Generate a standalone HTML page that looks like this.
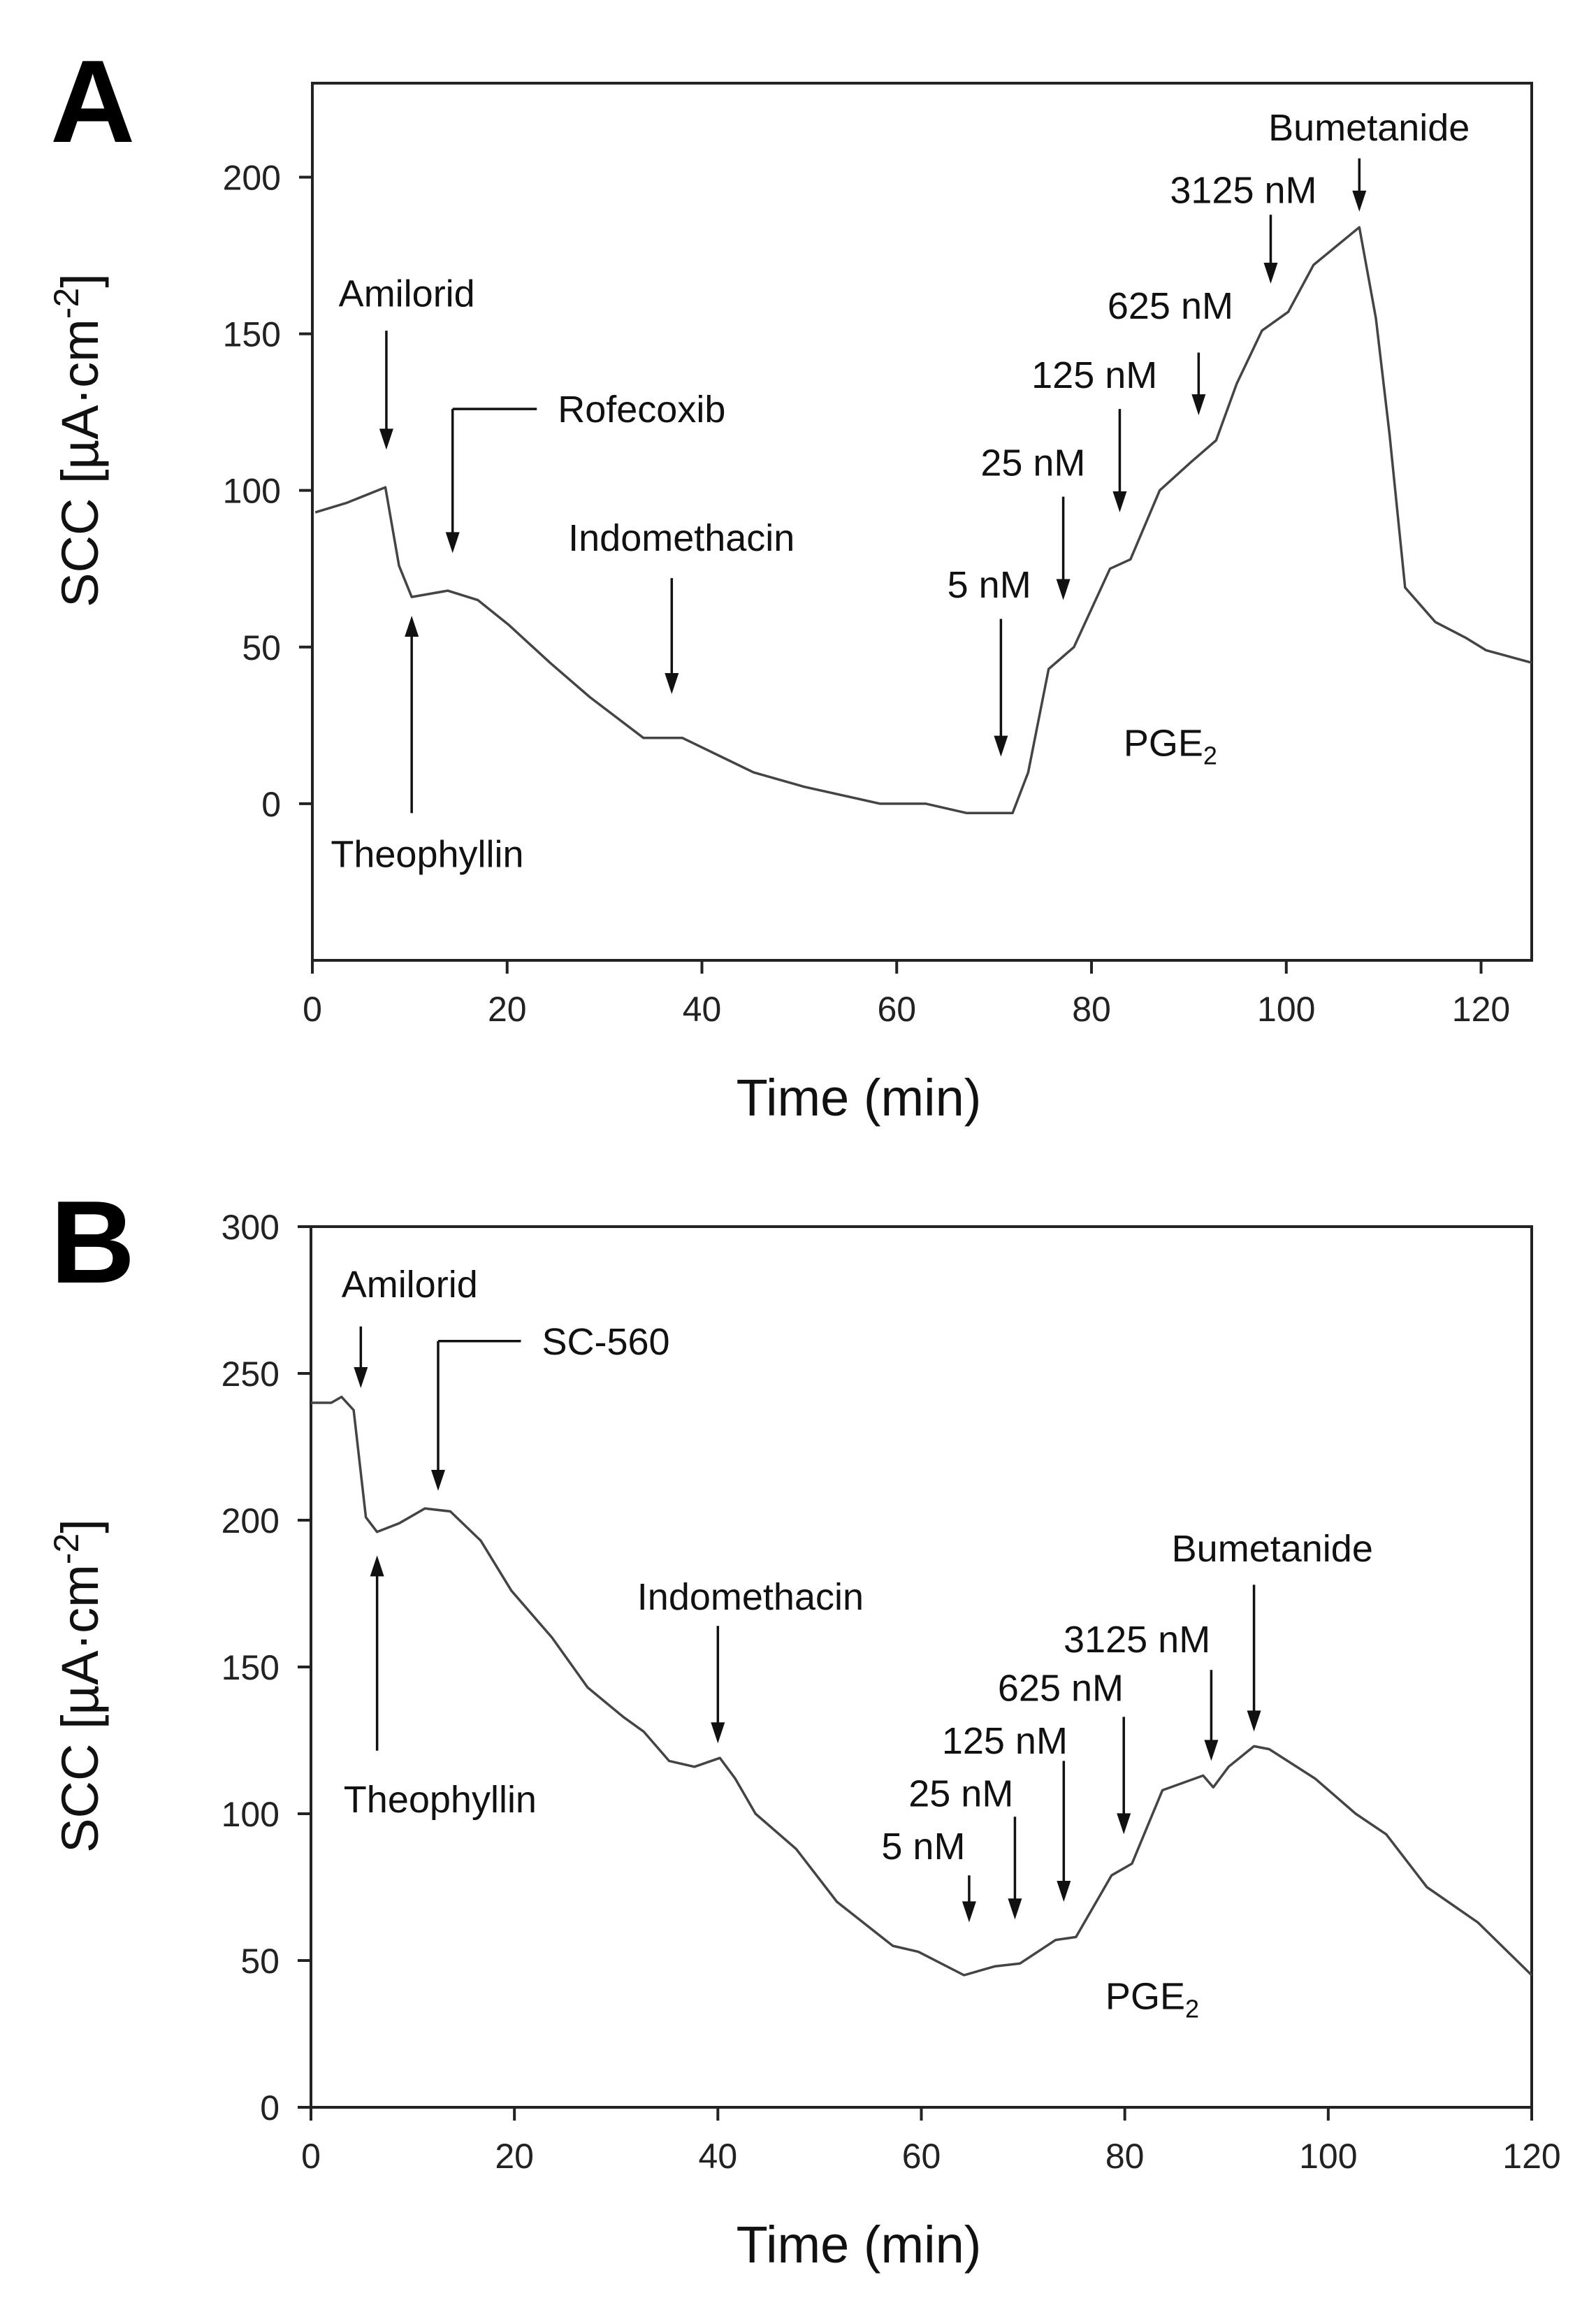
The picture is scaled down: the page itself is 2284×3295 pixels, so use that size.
<!DOCTYPE html>
<html><head><meta charset="utf-8"><style>
html,body{margin:0;padding:0;background:#fff;}
svg{display:block;font-family:"Liberation Sans",Arial,sans-serif;}
</style></head><body>
<svg id="chart" width="2284" height="3295" viewBox="0 0 2284 3295" xmlns="http://www.w3.org/2000/svg">
<text x="72" y="203" font-size="168" font-weight="bold">A</text>
<text x="72" y="1835" font-size="168" font-weight="bold">B</text>
</svg>
<script>
// Panel A data
const timeA = [0.3,3.5,7.5,8.9,10.2,13.9,17,20.2,24.4,28.5,34,38,45.3,50.5,58.3,63,67.2,71.9,73.5,75.6,78.2,81.9,84,87,90.2,92.8,94.9,97.5,100.2,102.8,107.5,109.2,110.6,112.2,115.3,118.4,120.5,125.2];
const sccA = [93,96,101,76,66,68,65,57,45,34,21,21,10,5.4,0,0,-3,-3,10,43,50,75,78,100,109,116,134,151,157,172,184,155,118,69,58,53,49,45];
const yTicksA = [0,50,100,150,200];
const xTicksA = [0,20,40,60,80,100,120];
const labelsA = ["Amilorid","Rofecoxib","Theophyllin","Indomethacin","5 nM","25 nM","125 nM","625 nM","3125 nM","Bumetanide"];
const labelTA = [9.7,25.2,11.8,37.9,69.5,74,80.3,88.1,95.6,108.5];
const labelYA = [163,126,-16,85,70,109,137,159,196,216];
const arrowTA = [7.6,14.4,10.2,36.9,70.7,77.1,82.9,91,98.4,107.5];
const arrowFromA = [151,126,-3,72,59,98,126,144,188,206];
const arrowToA = [113,80,60,35,15,65,93,124,166,189];
// Panel B data
const timeB = [0,2,3,4.2,5.4,6.5,8.7,11.2,13.7,16.7,19.7,23.7,27.2,30.7,32.7,35.2,37.7,40.2,41.7,43.7,47.7,51.7,57.2,59.7,64.2,67.2,69.7,73.2,75.2,78.7,80.7,83.7,87.7,88.7,90.2,92.7,94.2,98.7,102.7,105.7,109.7,114.7,120];
const sccB = [240,240,242,237.5,201,196,199,204,203,193,176,160,143,133,128,118,116,119,112,100,88,70,55,53,45,48,49,57,58,79,83,108,113,109,116,123,122,112,100,93,75,63,45];
const yTicksB = [0,50,100,150,200,250,300];
const xTicksB = [0,20,40,60,80,100,120];
const labelsB = ["Amilorid","SC-560","Theophyllin","Indomethacin","5 nM","25 nM","125 nM","625 nM","3125 nM","Bumetanide"];
const labelTB = [9.7,22.7,12.7,43.2,60.2,63.9,68.2,73.7,81.2,94.5];
const labelYB = [280.5,261,105,174,89,107,125,143,159.5,190.5];
const arrowTB = [4.9,12.5,6.5,40,64.7,69.2,74,79.9,88.5,92.7];
const arrowFromB = [266,261,121.5,164,79,99,118,133,149,178];
const arrowToB = [245,210,188,124,63,64,70,93,118,128];

const NS="http://www.w3.org/2000/svg";
const svg=document.getElementById('chart');
function mk(tag,attrs,parent){const e=document.createElementNS(NS,tag);for(const k in attrs)e.setAttribute(k,attrs[k]);(parent||svg).appendChild(e);return e;}

function panel(p){
  const g=mk('g',{});
  
  
  const X=t=>p.L+(t-p.x0)/(p.x1-p.x0)*(p.R-p.L);
  const Y=v=>p.B-(v-p.y0)/(p.y1-p.y0)*(p.B-p.T);
  const frame=mk('rect',{x:p.L,y:p.T,width:p.R-p.L,height:p.B-p.T,fill:'none',stroke:'#222','stroke-width':4},g);
  
  
  p.yt.forEach(v=>{
    const tk=mk('line',{x1:p.L-19,x2:p.L,y1:Y(v),y2:Y(v),stroke:'#222','stroke-width':4},g);
    
    
    const tl=mk('text',{x:p.L-45,y:Y(v)+18,'font-size':50,'text-anchor':'end',fill:'#222'},g);
    tl.textContent=v;
    
    
  });
  p.xt.forEach(v=>{
    const tk=mk('line',{x1:X(v),x2:X(v),y1:p.B,y2:p.B+19,stroke:'#222','stroke-width':4},g);
    
    
    const tl=mk('text',{x:X(v),y:p.B+87,'font-size':50,'text-anchor':'middle',fill:'#222'},g);
    tl.textContent=v;
    
    
  });
  const xt=mk('text',{x:1229,y:p.B+222,'font-size':74,'text-anchor':'middle',fill:'#111'},g);
  xt.textContent='Time (min)';
  
  
  const yt=mk('text',{x:0,y:0,'font-size':74,'text-anchor':'middle',fill:'#111',transform:`translate(${140},${p.ytc}) rotate(-90)`},g);
  yt.innerHTML='SCC [µA·cm<tspan dy="-28" font-size="50">-2</tspan><tspan dy="28">]</tspan>';
  
  
  const d=p.t.map((t,i)=>(i?'L':'M')+X(t).toFixed(1)+' '+Y(p.v[i]).toFixed(1)).join(' ');
  const line=mk('path',{d:d,fill:'none',stroke:'#444','stroke-width':3.5,'stroke-linejoin':'round'},g);
  
  
  p.lab.forEach((s,i)=>{
    const isSide = (s==='Rofecoxib'||s==='SC-560');
    const tx=mk('text',{x:X(p.lt[i]),y:Y(p.ly[i])+19,'font-size':54,'text-anchor':isSide?'start':'middle',fill:'#111'},g);
    tx.textContent=s;
    
    
    const ax=X(p.at[i]), y1=Y(p.af[i]), y2=Y(p.ato[i]);
    const dir = y2>y1?1:-1;
    const sh=mk('line',{x1:ax,x2:ax,y1:y1,y2:y2-dir*28,stroke:'#111','stroke-width':3.5},g);
    
    
    const hd=mk('polygon',{points:`${ax-10},${y2-dir*30} ${ax+10},${y2-dir*30} ${ax},${y2}`,fill:'#111'},g);
    
    
    if(isSide){
      const h=mk('line',{x1:ax,x2:X(p.lt[i])-30,y1:y1,y2:y1,stroke:'#111','stroke-width':3.5},g);
      
      
    }
  });
  const pg=mk('text',{x:X(p.pg[0]),y:Y(p.pg[1])+19,'font-size':54,'text-anchor':'middle',fill:'#111'},g);
  pg.innerHTML='PGE<tspan dy="12" font-size="36">2</tspan>';
  
  
}
panel({id:'a',L:447,R:2192,T:119,B:1374,x0:0,x1:125.2,y0:-50,y1:230,yt:yTicksA,xt:xTicksA,ytc:630,
  t:timeA,v:sccA,lab:labelsA,lt:labelTA,ly:labelYA,at:arrowTA,af:arrowFromA,ato:arrowToA,pg:[88.1,19.5]});
panel({id:'b',L:445,R:2192,T:1755,B:3015,x0:0,x1:120,y0:0,y1:300,yt:yTicksB,xt:xTicksB,ytc:2412,
  t:timeB,v:sccB,lab:labelsB,lt:labelTB,ly:labelYB,at:arrowTB,af:arrowFromB,ato:arrowToB,pg:[82.7,38]});
</script>
</body></html>
